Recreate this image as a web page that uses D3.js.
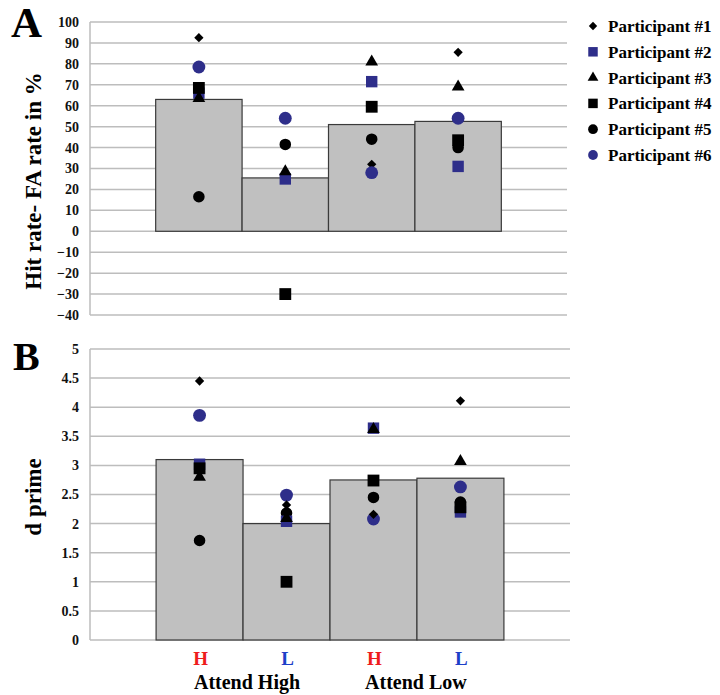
<!DOCTYPE html>
<html>
<head>
<meta charset="utf-8">
<script src="https://cdn.jsdelivr.net/npm/d3@7"></script>
<style>
  body { margin: 0; background: #fff; }
  text { font-family: "Liberation Serif", "Times New Roman", serif; font-weight: bold; }
</style>
</head>
<body>
<svg id="chart" width="720" height="695"></svg>
<script>
// ---------- data ----------
const categories = ["Attend High H", "Attend High L", "Attend Low H", "Attend Low L"];
const condLabels = ["H", "L", "H", "L"];
const groupLabels = ["Attend High", "Attend Low"];
const participants = ["Participant #1", "Participant #2", "Participant #3", "Participant #4", "Participant #5", "Participant #6"];

// Panel A: Hit rate - FA rate (%)
const meanA = [63, 25.5, 51, 52.5];
const p1A = [92.5, 41, 32, 85.5];
const p2A = [66, 25, 71.5, 31];
const p3A = [63.5, 28.5, 81, 69];
const p4A = [68.5, -30, 59.5, 43.5];
const p5A = [16.5, 41.5, 44, 40];
const p6A = [78.5, 54, 28, 54];

// Panel B: d prime
const meanB = [3.1, 2.0, 2.75, 2.78];
const p1B = [4.45, 2.32, 2.16, 4.11];
const p2B = [3.02, 2.04, 3.64, 2.2];
const p3B = [2.8, 2.09, 3.62, 3.07];
const p4B = [2.95, 1.0, 2.74, 2.28];
const p5B = [1.71, 2.18, 2.45, 2.37];
const p6B = [3.86, 2.49, 2.08, 2.63];

const ticksA = [-40, -30, -20, -10, 0, 10, 20, 30, 40, 50, 60, 70, 80, 90, 100];
const ticksB = [0, 0.5, 1, 1.5, 2, 2.5, 3, 3.5, 4, 4.5, 5];

// ---------- styles ----------
const navy = "#2e2e8a";
const shapes = [
  { sym: d3.symbolDiamond2, size: 55, color: "#000" },
  { sym: d3.symbolSquare, size: 130, color: navy },
  { sym: d3.symbolTriangle, size: 70, color: "#000" },
  { sym: d3.symbolSquare, size: 140, color: "#000" },
  { sym: d3.symbolCircle, size: 105, color: "#000" },
  { sym: d3.symbolCircle, size: 130, color: navy }
];
const legendShapes = [
  { sym: d3.symbolDiamond2, size: 45, color: "#000" },
  { sym: d3.symbolSquare, size: 90, color: navy },
  { sym: d3.symbolTriangle, size: 50, color: "#000" },
  { sym: d3.symbolSquare, size: 90, color: "#000" },
  { sym: d3.symbolCircle, size: 75, color: "#000" },
  { sym: d3.symbolCircle, size: 75, color: navy }
];

const svg = d3.select("#chart");

function panel(opts) {
  const { x0, x1, yDomain, yRange, ticks, means, series, tickFmt, baseline, drawOrder } = opts;
  const x = d3.scaleBand().domain(categories).range([x0, x1]).paddingInner(0).paddingOuter(0.76);
  const y = d3.scaleLinear().domain(yDomain).range(yRange);
  const g = svg.append("g");

  // gridlines
  g.selectAll("line.grid").data(ticks).join("line")
    .attr("x1", x0).attr("x2", x1)
    .attr("y1", d => y(d)).attr("y2", d => y(d))
    .attr("stroke", "#bdbdbd").attr("stroke-width", 1.5);
  // left axis line
  g.append("line").attr("x1", x0).attr("x2", x0)
    .attr("y1", y(yDomain[0])).attr("y2", y(yDomain[1]))
    .attr("stroke", "#bdbdbd").attr("stroke-width", 1.5);

  // y axis tick labels
  const ax = d3.axisLeft(y).tickValues(ticks).tickSize(0).tickPadding(0).tickFormat(tickFmt);
  const axg = g.append("g").attr("transform", `translate(${x0 - 11},0)`).call(ax);
  axg.select(".domain").remove();
  axg.selectAll("text").attr("font-size", 14).attr("fill", "#111")
    .style("font-family", "'Liberation Serif', serif").style("font-weight", "bold");

  // bars
  g.selectAll("rect.bar").data(means).join("rect")
    .attr("x", (d, i) => x(categories[i]))
    .attr("width", x.bandwidth())
    .attr("y", d => Math.min(y(d), y(baseline)))
    .attr("height", d => Math.abs(y(baseline) - y(d)))
    .attr("fill", "#c0c0c0").attr("stroke", "#3a3a3a").attr("stroke-width", 1.2);

  // points
  drawOrder.forEach(pi => {
    const s = shapes[pi];
    g.selectAll(null).data(series[pi]).join("path")
      .attr("d", d3.symbol().type(s.sym).size(s.size))
      .attr("transform", (d, i) => `translate(${x(categories[i]) + x.bandwidth() / 2},${y(d)})`)
      .attr("fill", s.color);
  });
  return { x, y };
}

const A = panel({
  x0: 90, x1: 567, yDomain: [-40, 100], yRange: [315, 22], ticks: ticksA,
  means: meanA, series: [p1A, p2A, p3A, p4A, p5A, p6A],
  tickFmt: d3.format("d"), baseline: 0, drawOrder: [0, 1, 2, 3, 4, 5]
});

const B = panel({
  x0: 90, x1: 570, yDomain: [0, 5], yRange: [640, 349], ticks: ticksB,
  means: meanB, series: [p1B, p2B, p3B, p4B, p5B, p6B],
  tickFmt: d => String(d), baseline: 0, drawOrder: [5, 4, 0, 1, 3, 2]
});

// panel letters
svg.append("text").attr("x", 11).attr("y", 37).attr("font-size", 43).text("A");
svg.append("text").attr("x", 13).attr("y", 370).attr("font-size", 40).text("B");

// y titles
svg.append("text").attr("transform", "translate(41,181) rotate(-90)")
  .attr("text-anchor", "middle").attr("font-size", 23).text("Hit rate- FA rate in %");
svg.append("text").attr("transform", "translate(41,497) rotate(-90)")
  .attr("text-anchor", "middle").attr("font-size", 23).text("d prime");

// x labels (H / L)
svg.selectAll("text.cond").data(condLabels).join("text")
  .attr("x", (d, i) => B.x(categories[i]) + B.x.bandwidth() / 2 + 1)
  .attr("y", 665).attr("text-anchor", "middle").attr("font-size", 19)
  .attr("fill", d => d === "H" ? "#ee1c1c" : "#1d3fc8").text(d => d);

svg.selectAll("text.group").data(groupLabels).join("text")
  .attr("x", (d, i) => B.x(categories[i * 2 + 1]) + (i === 0 ? 4 : -1))
  .attr("y", 689).attr("text-anchor", "middle").attr("font-size", 20)
  .text(d => d);

// legend
const leg = svg.append("g");
participants.forEach((p, i) => {
  const yy = 26 + i * 25.8;
  const s = legendShapes[i];
  leg.append("path").attr("d", d3.symbol().type(s.sym).size(s.size))
    .attr("transform", `translate(593,${yy})`).attr("fill", s.color);
  leg.append("text").attr("x", 608).attr("y", yy + 6).attr("font-size", 17).text(p);
});
</script>
</body>
</html>
